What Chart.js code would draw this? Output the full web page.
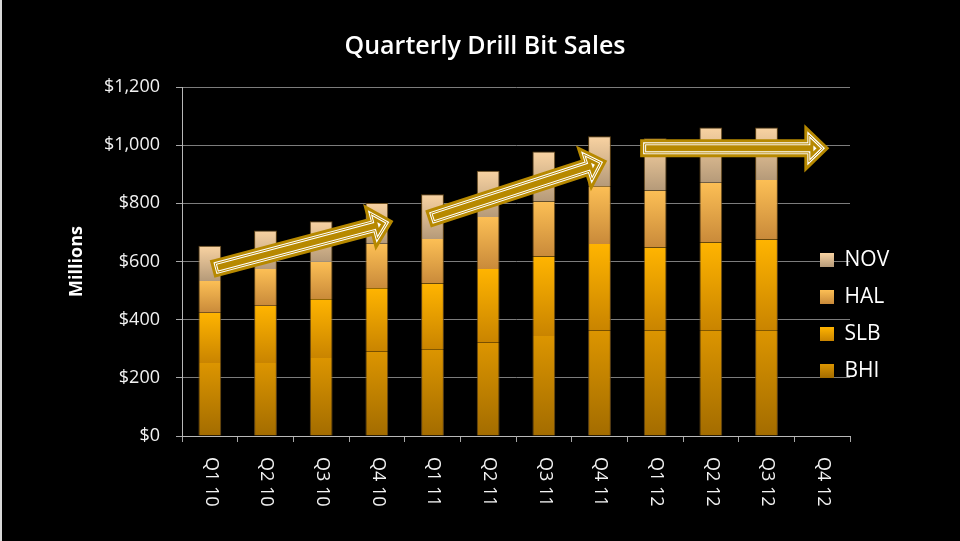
<!DOCTYPE html>
<html>
<head>
<meta charset="utf-8">
<title>Quarterly Drill Bit Sales</title>
<script src="https://cdn.jsdelivr.net/npm/chart.js@4/dist/chart.umd.min.js"></script>
<style>
    html, body { margin: 0; padding: 0; background: #000; }
    #wrap { position: relative; width: 960px; height: 541px; }
    #edge { position: absolute; left: 0; top: 0; width: 2px; height: 541px; background: #d8d8d8; }
</style>
</head>
<body>
<div id="wrap">
    <canvas id="drillChart" width="960" height="541"></canvas>
    <div id="edge"></div>
</div>
<script>
// quarters on the x axis
const quarters = ['Q1 10', 'Q2 10', 'Q3 10', 'Q4 10', 'Q1 11', 'Q2 11', 'Q3 11', 'Q4 11', 'Q1 12', 'Q2 12', 'Q3 12', 'Q4 12'];

// sales per company, $ millions (Q4 12 not reported yet)
const bhiSales = [251, 251, 268, 290, 298, 321, 344, 362, 362, 364, 364, null];
const slbSales = [173, 197, 202, 218, 226, 253, 273, 298, 286, 301, 312, null];
const halSales = [109, 126, 129, 153, 153, 179, 189, 199, 196, 206, 204, null];
const novSales = [121, 133, 139, 140, 154, 159, 172, 172, 180, 190, 181, null];

const seriesNames = ['BHI', 'SLB', 'HAL', 'NOV'];
const seriesValues = [bhiSales, slbSales, halSales, novSales];

// y axis ticks
const yTicks = [0, 200, 400, 600, 800, 1000, 1200];

// trend arrows in data space: [category index, value]
const trendArrows = [
    { from: [0.04, 574], to: [3.29, 739] },
    { from: [3.92, 746], to: [7.13, 946] },
    { from: [7.73, 989], to: [11.12, 989] }
];

// top / bottom gradient colours per series
const gradientColors = [
    ['#dc9500', '#a36c00'],
    ['#ffb400', '#c98400'],
    ['#fcbf55', '#c98a3a'],
    ['#f9d3a2', '#b59a79']
];

function segmentGradient(context, k) {
    const chart = context.chart;
    const i = context.dataIndex;
    if (!chart.chartArea || context.type !== 'data' || seriesValues[k][i] == null) {
        return gradientColors[k][0];
    }
    const yScale = chart.scales.y;
    let base = 0;
    for (let j = 0; j < k; j++) base += seriesValues[j][i] || 0;
    const top = yScale.getPixelForValue(base + seriesValues[k][i]);
    const bottom = yScale.getPixelForValue(base);
    const g = chart.ctx.createLinearGradient(0, top, 0, bottom);
    g.addColorStop(0, gradientColors[k][0]);
    g.addColorStop(1, gradientColors[k][1]);
    return g;
}

const datasets = seriesNames.map((name, k) => ({
    label: name,
    data: seriesValues[k],
    backgroundColor: ctx => segmentGradient(ctx, k),
    borderColor: 'rgba(110, 78, 25, 0.9)',
    borderWidth: { top: k === 3 ? 1 : 0, left: 1, right: 1, bottom: 0 },
    borderSkipped: false,
    categoryPercentage: 1,
    barPercentage: 0.41
}));

// move the legend into the right part of the plot and centre the title on the page
const legendPlacer = {
    id: 'legendPlacer',
    afterLayout(chart) {
        const lg = chart.legend;
        if (lg) {
            const h = lg.height;
            lg.left = 804;
            lg.right = lg.left + lg.width;
            lg.top = 233.5;
            lg.bottom = lg.top + h;
        }
        const tb = chart.titleBlock;
        if (tb) {
            tb.left = 10;
            tb.right = 960;
        }
    }
};

// x labels read top to bottom (rotated clockwise)
const xLabelPlugin = {
    id: 'xLabels',
    afterDraw(chart) {
        const ctx = chart.ctx;
        const xScale = chart.scales.x;
        ctx.save();
        ctx.fillStyle = '#f2f2f2';
        ctx.font = '18px "Open Sans"';
        ctx.textAlign = 'left';
        ctx.textBaseline = 'middle';
        quarters.forEach((q, i) => {
            ctx.save();
            ctx.translate(xScale.getPixelForValue(i) + 1, chart.chartArea.bottom + 21);
            ctx.rotate(Math.PI / 2);
            ctx.fillText(q, 0, 0);
            ctx.restore();
        });
        ctx.restore();
    }
};

function arrowPath(ctx, x1, y1, x2, y2) {
    const ang = Math.atan2(y2 - y1, x2 - x1);
    const len = Math.hypot(x2 - x1, y2 - y1);
    const shaft = 4.5, head = 13.5, headLen = 14;
    ctx.save();
    ctx.translate(x1, y1);
    ctx.rotate(ang);
    ctx.beginPath();
    ctx.moveTo(0, -shaft);
    ctx.lineTo(len - headLen, -shaft);
    ctx.lineTo(len - headLen, -head);
    ctx.lineTo(len, 0);
    ctx.lineTo(len - headLen, head);
    ctx.lineTo(len - headLen, shaft);
    ctx.lineTo(0, shaft);
    ctx.closePath();
    ctx.restore();
}

const arrowPlugin = {
    id: 'trendArrows',
    afterDatasetsDraw(chart) {
        const ctx = chart.ctx;
        const xs = chart.scales.x, ys = chart.scales.y;
        trendArrows.forEach(a => {
            let x1 = xs.getPixelForValue(a.from[0]), y1 = ys.getPixelForValue(a.from[1]);
            let x2 = xs.getPixelForValue(a.to[0]), y2 = ys.getPixelForValue(a.to[1]);
            // pull ends in so the thick outline stays inside the measured extents
            const ang = Math.atan2(y2 - y1, x2 - x1);
            x1 += Math.cos(ang) * 4.5; y1 += Math.sin(ang) * 4.5;
            x2 -= Math.cos(ang) * 6; y2 -= Math.sin(ang) * 6;
            ctx.save();
            ctx.lineJoin = 'miter';
            arrowPath(ctx, x1, y1, x2, y2);
            ctx.fillStyle = '#ffffff';
            ctx.fill();
            ctx.strokeStyle = '#b78900';
            ctx.lineWidth = 9;
            ctx.stroke();
            ctx.strokeStyle = '#ffffff';
            ctx.lineWidth = 3;
            ctx.stroke();
            ctx.strokeStyle = '#b78900';
            ctx.lineWidth = 1;
            ctx.stroke();
            ctx.restore();
        });
    }
};

const chart = new Chart(document.getElementById('drillChart').getContext('2d'), {
    type: 'bar',
    data: { labels: quarters, datasets: datasets },
    plugins: [legendPlacer, xLabelPlugin, arrowPlugin],
    options: {
        responsive: false,
        animation: false,
        layout: { padding: { left: 0, right: 110, top: 0, bottom: 0 } },
        plugins: {
            title: {
                display: true,
                text: 'Quarterly Drill Bit Sales',
                color: '#ffffff',
                font: { family: '"Open Sans"', size: 25, weight: '600' },
                padding: { top: 32, bottom: 25 }
            },
            legend: {
                position: 'chartArea',
                align: 'start',
                reverse: true,
                labels: {
                    color: '#ffffff',
                    font: { family: '"Open Sans"', size: 21 },
                    boxWidth: 14,
                    boxHeight: 14,
                    padding: 16,
                    generateLabels(chart) {
                        const items = Chart.defaults.plugins.legend.labels.generateLabels(chart);
                        const lg = chart.legend;
                        items.forEach(item => {
                            const k = item.datasetIndex;
                            const row = seriesNames.length - 1 - k;
                            const top = (lg ? lg.top : 0) + 16 + 3.5 + row * 37;
                            const g = chart.ctx.createLinearGradient(0, top, 0, top + 14);
                            g.addColorStop(0, gradientColors[k][0]);
                            g.addColorStop(1, gradientColors[k][1]);
                            item.fillStyle = g;
                            item.lineWidth = 0;
                            item.strokeStyle = 'transparent';
                        });
                        return items;
                    }
                }
            },
            tooltip: { enabled: false }
        },
        scales: {
            x: {
                stacked: true,
                afterFit(scale) { scale.height = 105; },
                grid: {
                    offset: true,
                    drawOnChartArea: false,
                    drawTicks: true,
                    tickLength: 6,
                    tickColor: '#a8a8a8'
                },
                border: { color: '#b8b8b8', width: 1 },
                ticks: { display: false }
            },
            y: {
                stacked: true,
                min: 0,
                max: 1200,
                afterFit(scale) { scale.width = 182; },
                afterBuildTicks(scale) { scale.ticks = yTicks.map(v => ({ value: v })); },
                grid: { color: '#7c7c7c', tickColor: '#a8a8a8', tickLength: 6 },
                border: { color: '#b8b8b8', width: 1 },
                ticks: {
                    color: '#f2f2f2',
                    padding: 16,
                    font: { family: '"Open Sans"', size: 18 },
                    callback: v => '$' + v.toLocaleString('en-US')
                },
                title: {
                    display: true,
                    text: 'Millions',
                    color: '#ffffff',
                    font: { family: '"Open Sans"', size: 18, weight: 'bold' },
                    padding: { top: 66, bottom: 0 }
                }
            }
        }
    }
});
</script>
</body>
</html>
